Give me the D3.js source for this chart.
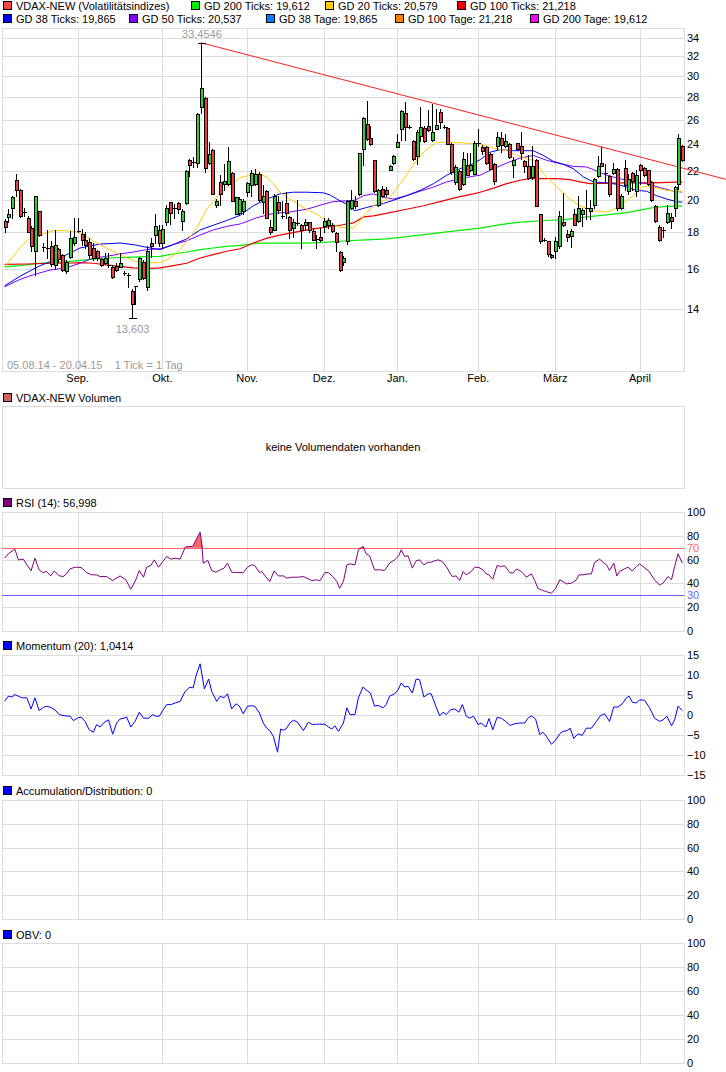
<!DOCTYPE html>
<html>
<head>
<meta charset="utf-8">
<script src="https://cdn.jsdelivr.net/npm/d3@7"></script>
<style>
  body { margin: 0; background: #fff; }
  text { font-family: 'Liberation Sans', Arial, sans-serif; font-size: 11px; white-space: pre; }
</style>
</head>
<body>
<svg id="container" width="726" height="1072"></svg>
<script>
(function (d3) {
  'use strict';

  // daily candles, 05.08.14 .. 17.04.15 : [open, high, low, close]
  const ohlc = [
    [18.68,18.79,18.04,18.32],[18.94,19.42,18.62,19.15],[19.51,20.30,18.89,20.19],[21.35,21.81,20.30,20.70],
    [20.65,20.72,18.96,19.00],[19.25,19.53,19.00,19.25],[18.89,19.00,18.00,18.04],[18.25,18.36,16.96,17.20],
    [16.96,20.30,15.65,20.30],[19.32,19.32,17.82,17.85],[17.17,17.39,16.93,17.17],[17.11,18.15,16.56,17.11],
    [17.20,17.48,16.15,16.22],[16.19,18.15,15.97,17.26],[17.04,17.11,16.37,16.50],[16.74,16.78,15.87,15.92],
    [15.89,16.46,15.76,16.33],[16.61,18.09,16.56,17.67],[17.39,18.89,17.30,17.76],[18.09,18.89,18.00,18.09],
    [17.91,18.19,17.30,17.54],[17.54,18.04,17.11,17.26],[17.43,17.70,16.56,16.70],[17.11,17.39,16.46,16.56],
    [16.93,17.02,16.46,16.56],[16.50,16.56,16.15,16.19],[16.31,16.83,16.22,16.56],[16.19,16.83,16.09,16.19],
    [16.09,16.19,15.52,15.55],[16.15,16.28,15.87,15.92],[16.09,16.83,16.06,16.28],[15.79,15.87,15.68,15.79],
    [15.68,15.76,15.07,15.68],[14.88,14.96,13.60,14.27],[15.10,15.12,14.24,15.10],[15.44,16.59,15.36,16.56],
    [16.37,16.46,15.44,15.49],[15.07,17.20,14.91,16.96],[17.39,17.67,16.59,17.20],[17.85,19.15,17.39,18.36],
    [18.15,18.47,17.20,17.39],[17.39,18.47,17.11,18.19],[18.62,19.68,18.47,19.53],[19.91,19.91,18.51,19.17],
    [19.53,19.74,18.89,19.53],[19.79,19.89,19.21,19.42],[18.68,19.42,18.15,19.32],[19.85,22.05,19.74,22.00],
    [22.78,22.90,21.65,22.41],[22.66,23.02,22.29,22.66],[22.58,26.61,22.29,26.52],[27.14,33.45,26.61,28.83],
    [27.94,28.06,21.93,22.24],[22.61,24.18,22.54,23.24],[23.59,23.65,20.38,20.42],[19.68,20.07,19.57,19.96],
    [21.23,21.70,19.68,20.42],[21.07,22.54,20.65,21.30],[21.07,23.76,21.00,22.71],[21.86,21.90,19.93,19.96],
    [19.15,20.22,19.11,20.19],[19.21,20.19,19.11,20.07],[19.32,20.07,19.11,19.96],[20.53,21.23,20.25,21.18],
    [21.00,22.05,20.30,21.88],[21.11,22.17,21.00,21.81],[21.81,21.93,19.96,20.00],[19.91,21.00,19.21,20.25],
    [20.60,20.65,18.85,18.89],[18.32,18.72,17.94,18.00],[18.15,20.42,18.12,20.30],[19.91,20.30,19.21,19.36],
    [19.00,19.96,18.89,19.00],[19.85,20.53,18.89,19.17],[18.96,19.00,17.70,18.15],[18.25,18.79,17.76,18.64],
    [18.57,20.02,18.47,18.57],[18.43,18.51,17.11,18.15],[18.47,18.79,18.15,18.64],[18.62,18.62,18.00,18.15],
    [18.09,18.25,17.54,17.57],[17.63,17.85,17.11,17.63],[17.72,18.25,17.48,17.54],[18.36,18.85,18.04,18.68],
    [18.43,18.89,18.25,18.74],[18.47,18.57,18.00,18.09],[17.98,18.04,16.96,17.43],[16.89,16.92,15.87,15.92],
    [16.37,16.65,16.19,16.56],[17.52,20.00,17.33,19.96],[19.53,20.65,19.42,20.00],[19.96,20.30,19.53,19.60],
    [20.42,23.32,20.35,23.32],[23.63,26.21,22.41,26.15],[25.68,27.63,24.32,24.40],[24.53,25.47,23.93,24.05],
    [22.78,22.83,20.53,20.60],[19.70,20.77,19.60,20.65],[20.77,20.95,20.19,20.30],[20.65,20.88,20.30,20.42],
    [22.10,22.41,22.05,22.34],[22.61,23.15,22.54,23.07],[23.80,24.85,23.76,24.18],[25.25,26.83,24.32,26.77],
    [26.61,27.54,24.32,25.39],[25.41,25.60,25.28,25.41],[24.27,24.32,22.78,22.85],[23.07,25.12,22.54,25.01],
    [24.67,27.08,24.27,25.44],[25.33,25.47,24.21,24.27],[25.52,26.83,25.07,25.15],[24.35,27.38,24.27,24.99],
    [25.25,26.92,25.20,25.60],[26.68,26.98,25.33,25.79],[25.39,25.60,25.33,25.39],[25.33,25.39,24.00,24.05],
    [24.05,24.13,21.81,21.93],[21.23,22.41,21.11,22.29],[21.98,22.05,20.70,20.77],[21.11,23.39,21.00,22.90],
    [22.46,23.32,21.70,21.74],[22.10,23.32,21.98,22.46],[21.81,24.27,21.77,24.13],[24.13,25.20,23.88,24.13],
    [23.76,23.95,23.27,23.46],[23.83,23.88,22.54,22.58],[23.27,23.32,22.12,22.17],[22.49,22.58,21.07,21.30],
    [23.88,25.01,23.63,24.58],[24.48,25.01,23.39,23.95],[23.88,24.85,23.80,24.27],[24.00,24.13,22.97,23.02],
    [22.41,23.02,21.58,22.78],[24.08,24.13,23.56,23.68],[23.88,24.99,22.90,23.32],[22.71,22.83,21.93,22.34],
    [22.34,23.15,21.46,21.53],[21.58,23.88,21.46,22.34],[22.78,22.90,19.60,19.64],[19.11,19.15,17.39,17.48],
    [17.56,17.67,17.48,17.56],[17.48,17.52,16.69,16.78],[16.74,16.78,16.56,16.63],[16.96,17.76,16.56,17.48],
    [17.20,19.28,17.11,19.00],[18.64,20.47,18.36,18.43],[17.94,18.15,17.48,17.76],[17.82,18.19,17.17,18.09],
    [19.11,19.42,18.43,18.47],[18.68,20.30,18.64,19.49],[19.15,19.53,18.40,19.36],[19.53,20.65,18.79,19.53],
    [19.32,20.00,18.79,19.53],[19.70,21.53,19.53,21.46],[21.63,23.07,21.58,22.34],[22.58,23.80,22.34,22.39],
    [21.86,22.54,21.23,21.86],[21.63,21.70,20.30,20.42],[21.88,22.58,21.81,22.12],[22.17,22.22,19.36,19.49],
    [19.53,20.42,19.42,20.30],[22.20,22.78,20.65,21.00],[20.60,21.81,20.42,21.46],[21.86,21.91,20.65,21.28],
    [20.60,22.10,20.30,21.70],[22.41,22.54,21.11,22.10],[22.24,22.29,21.63,21.74],[22.05,22.10,21.00,21.11],
    [21.23,21.30,19.96,20.02],[19.64,19.70,18.62,18.68],[18.30,18.47,17.52,17.57],[18.15,18.30,17.76,18.15],
    [18.62,19.70,18.55,19.21],[18.94,19.21,18.25,18.68],[19.47,20.95,19.00,20.88],[21.07,24.85,20.77,24.53],
    [23.85,23.95,22.73,22.78]
  ];

  // moving averages: [day index, value]
  const gd20 = [[0,16.09],[4,17.11],[6.6,17.70],[9.2,17.85],[12.7,18.11],[16.1,18.11],[18.7,18.04],[21.3,17.76],
    [23.1,17.48],[26.5,17.11],[30,16.74],[33.5,16.41],[35.2,16.31],[40.4,16.31],[42.1,16.46],[44.7,16.83],
    [47.3,17.48],[49.9,18.25],[52.5,19.42],[55.1,20.19],[57.7,20.88],[61.2,21.53],[63.7,21.70],[65.9,21.81],
    [68.1,21.58],[69.8,21.11],[71.5,20.53],[74.1,20.07],[77.6,19.53],[81.1,19.11],[84.5,18.57],[87.1,18.30],
    [90.6,18.25],[91.9,18.57],[94,19.21],[95.8,19.64],[98.4,19.96],[100.1,20.19],[102.7,21.11],[104.9,21.93],
    [107,22.78],[109.6,23.63],[112.2,24.13],[114.8,24.18],[118.3,24.13],[123.5,24.0],[127,23.71],[130.4,23.51],
    [133,23.15],[135.6,22.90],[137.7,22.78],[139.9,21.81],[143.4,20.88],[146.8,20.07],[149.4,19.64],[152.9,19.32],
    [156.8,19.25],[159.8,19.64],[163.3,20.30],[165.9,20.93],[168.5,20.88],[172,20.65],[176,20.58]];
  const gd38 = [[0,15.12],[4,15.60],[9.2,16.15],[14.4,16.56],[19.6,17.11],[24.8,17.33],[30,17.39],[33.5,17.30],
    [36.9,17.15],[40.4,17.02],[43.8,17.30],[47.3,17.63],[50.8,18.15],[54.2,18.43],[57.7,18.72],[61.2,19.04],
    [64.6,19.64],[68.1,20.07],[71.5,20.42],[75,20.53],[78.5,20.53],[82.8,20.49],[84.5,20.35],[87.1,19.96],
    [88.9,19.74],[91,19.32],[94,19.53],[98.4,19.79],[101,20.0],[104.4,20.30],[107.9,20.65],[111.4,21.11],
    [114.8,21.70],[118.3,22.17],[121.7,22.54],[123.5,22.83],[126,23.39],[128.7,23.59],[132.1,23.51],[137.3,23.51],
    [139.9,23.15],[142.5,22.71],[145.1,22.49],[147.7,22.17],[150.3,21.58],[152.9,21.23],[156.4,21.16],[159,21.07],
    [161.5,20.88],[164.1,20.65],[166.7,20.60],[169.3,20.30],[172,20.07],[174.5,19.91],[176,19.87]];
  const gd50 = [[0,15.07],[4,15.44],[7.5,15.68],[11.8,15.92],[16.1,16.04],[19.6,16.28],[23.1,16.56],[26.5,16.65],
    [30,16.78],[33.5,16.89],[36.9,17.02],[40.4,17.07],[43.8,17.30],[47.3,17.52],[50.8,17.85],[54.2,18.15],
    [57.7,18.36],[61.2,18.51],[65.5,18.89],[69.8,19.15],[74.1,19.25],[78.5,19.42],[82.8,19.74],[85.4,19.91],
    [88.9,19.96],[91,20.0],[93.2,20.30],[95.8,20.42],[98.4,20.19],[101,20.07],[104.4,20.30],[107.9,20.60],
    [111.4,20.88],[114.8,21.23],[118.3,21.46],[121.7,21.63],[123.5,21.70],[127,22.17],[130.4,22.58],[133.8,22.95],
    [137.3,23.15],[140.8,22.78],[144.2,22.54],[147.7,22.34],[151.2,22.29],[153.8,22.0],[156.4,21.70],[159.8,21.46],
    [163.3,21.23],[166.7,21.11],[170.2,20.84],[173.7,20.60],[176,20.54]];
  const gd100 = [[0,16.22],[5.8,16.24],[11.8,16.28],[16.1,16.28],[19.6,16.31],[23.1,16.28],[26.5,16.19],[30,16.11],
    [33.5,16.04],[36.9,16.0],[40.4,16.04],[43.8,16.15],[47.3,16.28],[50.8,16.56],[54.2,16.74],[57.7,16.93],
    [61.2,17.07],[64.6,17.39],[68.1,17.67],[71.5,17.85],[75.9,18.04],[80.2,18.21],[83.7,18.32],[87.1,18.43],
    [90.6,18.57],[93.2,18.94],[95.8,19.0],[100.1,19.21],[104.4,19.42],[108.8,19.64],[113.1,19.91],[117.4,20.19],
    [121.7,20.42],[123.5,20.53],[127,20.81],[130.4,21.11],[133.8,21.35],[136.4,21.46],[143.4,21.46],[146.8,21.39],
    [149.4,21.23],[152,21.11],[160.7,21.16],[168.5,21.16],[176,21.23]];
  const gd200 = [[0,16.09],[4,16.15],[9.2,16.28],[16.1,16.37],[21.3,16.46],[26.5,16.56],[31.7,16.59],[36.9,16.63],
    [40.4,16.65],[43.8,16.78],[47.3,16.89],[50.8,17.02],[54.2,17.11],[57.7,17.20],[61.2,17.26],[66.3,17.39],
    [71.5,17.39],[78.5,17.39],[83.7,17.44],[88.9,17.52],[94,17.57],[99.2,17.63],[104.4,17.76],[109.6,17.89],
    [114.8,18.04],[120,18.17],[123.5,18.26],[128.7,18.47],[133.8,18.62],[140.8,18.72],[146,18.79],[151.2,18.94],
    [158.1,19.11],[161.5,19.21],[165,19.36],[168.5,19.53],[172,19.60],[176,19.64]];

  // resistance line through the October high
  const trend = [[51, 33.45], [176, 22.22]];

  const rsi = [[0,61.2],[1,64.9],[2.7,68.8],[3.6,59.8],[4.9,60.4],[5.8,55.6],[6.9,50.5],[7.9,61.2],[9,51.4],
    [9.9,49.1],[10.9,50],[12,46.3],[12.9,50.5],[14.2,46.3],[15.3,45.8],[16.1,48],[17,52.2],[18.3,53.6],[19.9,53.4],
    [21.3,49.1],[22.6,47.2],[23.9,47.2],[24.8,45.8],[26.5,45.8],[28.1,42.4],[30,46.3],[31.5,43],[32.8,35.1],
    [34.1,43],[35,50.8],[36.1,45.2],[36.9,53.6],[38,55],[38.9,59.8],[40,53.6],[41.1,58.4],[42.1,62.6],[43.2,60.4],
    [44.3,61.2],[45.6,60.4],[46.9,70.2],[47.6,71],[48.9,71],[49.3,73.9],[50.8,83.1],[51.2,73.9],[51.6,57],
    [52.3,58.4],[52.8,59.3],[53.8,50.8],[54.9,49.4],[56,51.4],[57,52.8],[57.9,57],[59,49.4],[60.3,49.1],[62,49.1],
    [63.1,53.6],[64.2,55.6],[65,55],[66.2,49.1],[66.8,50],[67.8,45.8],[68.9,41.6],[70,50.5],[71.1,46.3],[72.4,46.3],
    [73.3,44.4],[74.6,45.2],[76.3,45.2],[77.6,45.8],[78.5,44.4],[79.8,42.4],[81.1,43],[81.9,42.1],[83.2,49.1],
    [84.1,49.1],[85.2,45.8],[86.3,41.6],[87,35.9],[88,41.6],[88.9,55.6],[89.7,56.4],[91,55.6],[91.9,68.2],
    [93.1,71],[93.9,64.9],[94.8,63.2],[96.1,51.4],[97.4,51.4],[98.7,50.8],[100,57],[101.3,59.8],[102.4,63.2],
    [103,68.2],[103.9,62.6],[104.8,63.2],[105.9,52.8],[106.9,59],[107.8,59.8],[108.9,55.6],[110,57.8],[110.8,57.8],
    [111.7,59],[112.6,59.8],[113.7,58.4],[114.7,54.2],[115.8,48],[116.3,45.8],[117.3,46.3],[118.2,42.4],[119.1,50],
    [119.9,47.2],[121.2,50],[122.1,53.6],[123.2,53.4],[124.2,51.4],[125.1,48],[125.8,47.2],[126.8,43.5],[127.9,55],
    [128.8,54.2],[129.9,54.8],[131.2,49.1],[132,48.6],[132.9,52],[133.8,50.8],[134.5,49.1],[135.5,45.2],[136.8,48],
    [137.7,42.4],[138.5,35.9],[139.4,34.5],[140.7,33.1],[142,31.7],[143.1,35.9],[144.2,43],[145,41.6],[145.9,39.6],
    [147.2,40.2],[148.5,43],[149.2,47.2],[150.2,47.2],[151.5,48],[152.4,48],[153.2,57.6],[154.5,60.4],[155.2,58.4],
    [156.3,55.6],[157.1,50.8],[158.2,57],[159,46.3],[159.7,50],[161,52.2],[161.9,53.6],[163,50.5],[164.1,54.2],
    [164.9,56.4],[165.8,54.2],[167.4,50],[168.8,43],[170.1,38.5],[171,40.2],[172.3,45.8],[173.2,43],[174,54.2],
    [174.9,64.9],[176,57]];

  const momentum = [[0,3.4],[1,4.7],[1.9,4.5],[2.7,5.1],[3.6,4.7],[4.5,4.3],[5.8,4.3],[6.9,1.5],[7.9,4.3],[9,1.1],
    [10.1,1.9],[10.9,2.2],[12,1.9],[13.1,1.3],[14.2,0.1],[15.7,-0.2],[17,-0.3],[17.9,-1.4],[18.9,-0.8],[19.9,-0.5],
    [20.9,-1.6],[22,-3.7],[23.1,-4.3],[23.9,-2.4],[24.8,-3],[25.7,-2],[27,-1.2],[28.1,-4.8],[29.1,-2],[30,-1],
    [31,-0.8],[31.7,-0.5],[32.8,-3],[33.9,-1.6],[35,0.7],[36.1,-0.8],[37.4,-0.8],[38.5,0.1],[39.3,-0.3],[40.2,-0.3],
    [41.2,1.3],[42.1,2.6],[43.2,2.6],[44.3,3],[45.6,3.4],[46.9,5.9],[48,6.9],[49,6.8],[49.7,9.7],[50.8,12.8],
    [51.9,6.5],[53,9],[53.8,5.9],[55.1,3.4],[56,4.7],[57,4.3],[57.9,5.3],[59,1.5],[60.1,2.8],[61,2.2],[62,0.3],
    [63.1,2.2],[64.2,2.3],[65,2.2],[66.2,0.5],[67.2,-2],[68.1,-3.3],[68.9,-3.9],[69.8,-5.3],[70.9,-9.3],[71.7,-3.5],
    [72.4,-3.8],[73.1,-3.5],[74.1,-2],[75,-1.3],[76.1,-1.8],[77.6,-3.9],[78.9,-1.8],[80,-2.4],[81.1,-2.3],[83.2,-2.3],
    [84.1,-3],[85,-3.5],[85.8,-2.7],[86.7,-4.1],[88,-2],[88.9,1.8],[89.7,0.1],[91,0.1],[91.9,4.3],[93.1,7],
    [93.9,6.3],[95,5.5],[96.1,2.2],[97,2.4],[98.3,1.8],[99.1,2.6],[100,4.7],[101.3,5.3],[102.2,6.3],[103,8],
    [103.9,7],[104.8,7.2],[105.9,5.5],[106.9,9],[107.8,8.8],[108.9,4.5],[110,5.3],[110.8,5.3],[112,2.2],[113,-0.2],
    [113.9,0.7],[114.7,0.1],[115.8,1.3],[116.9,1.5],[118,0.7],[118.9,2.6],[119.9,-0.3],[120.8,-0.8],[121.8,-0.3],
    [123,-2.4],[123.8,-2],[125,-3],[125.8,-0.9],[126.8,-3.7],[127.9,-0.6],[129,-0.8],[130.1,-1.6],[131.3,-2.6],
    [132.5,-2.2],[133.8,-2],[135.1,-2],[135.9,-0.8],[136.8,-0.2],[137.9,-1],[139,-4.9],[139.8,-4.3],[140.7,-5.3],
    [142,-7.3],[143.1,-6.3],[144.2,-4.7],[145,-4.1],[146.1,-3.9],[146.9,-3.3],[147.8,-5.9],[148.9,-4.7],[150,-5.1],
    [151.1,-3.3],[152.4,-3.3],[153.7,-1.6],[154.7,-0.2],[155.8,0.3],[157.1,-1.6],[158.2,2],[159.3,2],[160.4,2.8],
    [161.5,4.3],[162.2,4.7],[163,3.2],[164.1,3],[164.9,3.8],[166.2,3.7],[167.5,1.8],[168.8,-0.8],[170.1,-1.6],
    [171,-1.2],[172,-0.3],[173.2,-2.7],[174,-1.2],[174.9,2.2],[176,1.1]];

  const monthLabels = ['Sep.', 'Okt.', 'Nov.', 'Dez.', 'Jan.', 'Feb.', 'März', 'April'];
  const monthStart = [19, 41, 63, 83, 102, 123, 143, 165];
  const priceTicks = [14, 16, 18, 20, 22, 24, 26, 28, 30, 32, 34];
  const rsiTicks = [0, 20, 40, 60, 80, 100];
  const momTicks = [-15, -10, -5, 0, 5, 10, 15];
  const pctTicks = [0, 20, 40, 60, 80, 100];

  const legendRow1 = [
    { label: 'VDAX-NEW (Volatilitätsindizes)', color: '#f04848' },
    { label: 'GD 200 Ticks: 19,612', color: '#00ee00' },
    { label: 'GD 20 Ticks: 20,579', color: '#ffcc00' },
    { label: 'GD 100 Ticks: 21,218', color: '#ee0000' },
  ];
  const legendRow2 = [
    { label: 'GD 38 Ticks: 19,865', color: '#0000ee' },
    { label: 'GD 50 Ticks: 20,537', color: '#8000ff' },
    { label: 'GD 38 Tage: 19,865', color: '#0080ff' },
    { label: 'GD 100 Tage: 21,218', color: '#ff8000' },
    { label: 'GD 200 Tage: 19,612', color: '#ff00ff' },
  ];

  const svg = d3.select('#container');
  const GRID = '#dcdcdc';
  const LEFT = 2, RIGHT = 684;

  const x = d3.scaleLinear().domain([0, ohlc.length - 1]).range([4.5, 682.3]);
  const px = (v) => Math.round(v) + 0.5;

  // legend
  const legendX1 = [3, 191, 325, 457];
  const legendX2 = [3, 129, 266, 395, 530];
  const drawKey = (g, xPos, yBase, color, label) => {
    g.append('rect').attr('x', xPos + 0.5).attr('y', yBase - 7.5).attr('width', 8).attr('height', 8)
      .attr('fill', color).attr('stroke', '#000').attr('shape-rendering', 'crispEdges');
    g.append('text').attr('x', xPos + 13).attr('y', yBase + 1).text(label);
  };
  legendRow1.forEach((d, i) => drawKey(svg, legendX1[i], 9, d.color, d.label));
  legendRow2.forEach((d, i) => drawKey(svg, legendX2[i], 22, d.color, d.label));

  // generic panel frame: grid, border, right axis
  const panel = (top, bottom, y, ticks, fmt) => {
    const g = svg.append('g').attr('shape-rendering', 'crispEdges');
    g.append('rect').attr('x', LEFT + 0.5).attr('y', top + 0.5)
      .attr('width', RIGHT - LEFT).attr('height', bottom - top)
      .attr('fill', '#fff').attr('stroke', GRID);
    g.selectAll('line.h').data(ticks).enter().append('line')
      .attr('x1', LEFT).attr('x2', RIGHT)
      .attr('y1', (d) => px(y(d))).attr('y2', (d) => px(y(d)))
      .attr('stroke', GRID);
    g.selectAll('line.v').data(monthStart).enter().append('line')
      .attr('y1', top).attr('y2', bottom)
      .attr('x1', (d) => px(x(d))).attr('x2', (d) => px(x(d)))
      .attr('stroke', GRID);
    svg.append('g').selectAll('text').data(ticks).enter().append('text')
      .attr('x', RIGHT + 3).attr('y', (d) => y(d) + 4)
      .text(fmt || ((d) => d));
    return g;
  };

  // ---- main price panel
  const y = d3.scaleLog().domain([11.45, 35.1]).range([371, 28]);
  panel(28, 371, y, priceTicks);

  svg.selectAll('text.month').data(monthStart).enter().append('text')
    .attr('x', (d) => x(d)).attr('y', 382).attr('text-anchor', 'middle')
    .text((d, i) => monthLabels[i]);

  svg.append('text').attr('x', 7).attr('y', 369).attr('fill', '#999')
    .text('05.08.14 - 20.04.15    1 Tick = 1 Tag');

  const maLine = d3.line().x((d) => x(d[0])).y((d) => y(d[1]));
  const maSeries = [
    { data: gd200, color: '#00ee00', w: 1.2 },
    { data: gd100, color: '#ee0000', w: 1.2 },
    { data: gd50, color: '#8000ff', w: 1 },
    { data: gd38, color: '#0000ee', w: 1 },
    { data: gd20, color: '#ffcc00', w: 1 },
  ];
  maSeries.forEach((s) => {
    svg.append('path').datum(s.data).attr('d', maLine)
      .attr('fill', 'none').attr('stroke', s.color).attr('stroke-width', s.w);
  });

  // trend line, extended to the right edge of the picture
  const tx0 = x(trend[0][0]), ty0 = y(trend[0][1]);
  const slope = (y(trend[1][1]) - ty0) / (x(trend[1][0]) - tx0);
  svg.append('line').attr('x1', tx0).attr('y1', ty0)
    .attr('x2', 726).attr('y2', ty0 + slope * (726 - tx0))
    .attr('stroke', '#ff2020').attr('stroke-width', 1);

  // candles
  const cg = svg.append('g').attr('shape-rendering', 'crispEdges');
  ohlc.forEach((d, i) => {
    const [o, h, l, c] = d;
    const cx = Math.round(x(i));
    cg.append('line').attr('x1', cx + 0.5).attr('x2', cx + 0.5)
      .attr('y1', Math.round(y(h))).attr('y2', Math.round(y(l)) + 1)
      .attr('stroke', '#000');
    const yt = Math.round(y(Math.max(o, c)));
    const yb = Math.round(y(Math.min(o, c)));
    if (yb - yt < 2) {
      cg.append('line').attr('x1', cx - 1).attr('x2', cx + 3)
        .attr('y1', yt + 0.5).attr('y2', yt + 0.5).attr('stroke', '#000');
    } else {
      cg.append('rect').attr('x', cx - 0.5).attr('y', yt + 0.5)
        .attr('width', 3).attr('height', yb - yt)
        .attr('fill', c >= o ? '#33cc33' : '#e84040').attr('stroke', '#000');
    }
  });

  // high / low marks
  const hiIdx = d3.maxIndex(ohlc, (d) => d[1]);
  const loIdx = d3.minIndex(ohlc, (d) => d[2]);
  [[hiIdx, ohlc[hiIdx][1]], [loIdx, ohlc[loIdx][2]]].forEach(([i, v]) => {
    cg.append('line').attr('x1', Math.round(x(i)) - 3).attr('x2', Math.round(x(i)) + 5)
      .attr('y1', px(y(v))).attr('y2', px(y(v))).attr('stroke', '#000');
  });
  const fmtDe = (v) => String(v).replace('.', ',');
  svg.append('text').attr('x', x(hiIdx) + 1).attr('y', y(ohlc[hiIdx][1]) - 5)
    .attr('text-anchor', 'middle').attr('fill', '#999').text('33,4546');
  svg.append('text').attr('x', x(loIdx) + 1).attr('y', y(ohlc[loIdx][2]) + 15)
    .attr('text-anchor', 'middle').attr('fill', '#999').text(fmtDe(13.603));

  // ---- volume panel (no data)
  drawKey(svg, 3, 401, '#d06060', 'VDAX-NEW Volumen');
  svg.append('rect').attr('x', LEFT + 0.5).attr('y', 406.5).attr('width', RIGHT - LEFT).attr('height', 82)
    .attr('fill', '#fff').attr('stroke', GRID).attr('shape-rendering', 'crispEdges');
  svg.append('text').attr('x', 343).attr('y', 451).attr('text-anchor', 'middle')
    .text('keine Volumendaten vorhanden');

  // ---- RSI
  drawKey(svg, 3, 506, '#800080', 'RSI (14): 56,998');
  const yr = d3.scaleLinear().domain([0, 100]).range([631, 512]);
  panel(512, 631, yr, rsiTicks);
  svg.append('path').datum(rsi)
    .attr('d', d3.area().x((d) => x(d[0])).y0(yr(70)).y1((d) => yr(Math.max(70, d[1]))))
    .attr('fill', '#ff6666');
  [[70, '#ff6666'], [30, '#6666ff']].forEach(([v, col]) => {
    svg.append('line').attr('x1', LEFT).attr('x2', RIGHT).attr('y1', px(yr(v))).attr('y2', px(yr(v)))
      .attr('stroke', col).attr('shape-rendering', 'crispEdges');
    svg.append('text').attr('x', RIGHT + 3).attr('y', yr(v) + 4).attr('fill', col).text(v);
  });
  svg.append('path').datum(rsi)
    .attr('d', d3.line().x((d) => x(d[0])).y((d) => yr(d[1])))
    .attr('fill', 'none').attr('stroke', '#800080').attr('stroke-width', 1);

  // ---- Momentum
  drawKey(svg, 3, 649, '#0000ff', 'Momentum (20): 1,0414');
  const ym = d3.scaleLinear().domain([-15, 15]).range([775, 655]);
  panel(655, 775, ym, momTicks, (d) => (d < 0 ? '\u2212' + (-d) : d));
  svg.append('path').datum(momentum)
    .attr('d', d3.line().x((d) => x(d[0])).y((d) => ym(d[1])))
    .attr('fill', 'none').attr('stroke', '#0000ff').attr('stroke-width', 1);

  // ---- Accumulation/Distribution and OBV (empty)
  drawKey(svg, 3, 794, '#0000ff', 'Accumulation/Distribution: 0');
  panel(800, 919, d3.scaleLinear().domain([0, 100]).range([919, 800]), pctTicks);
  drawKey(svg, 3, 938, '#0000ff', 'OBV: 0');
  panel(943, 1063, d3.scaleLinear().domain([0, 100]).range([1063, 943]), pctTicks);

}(d3));
</script>
</body>
</html>
